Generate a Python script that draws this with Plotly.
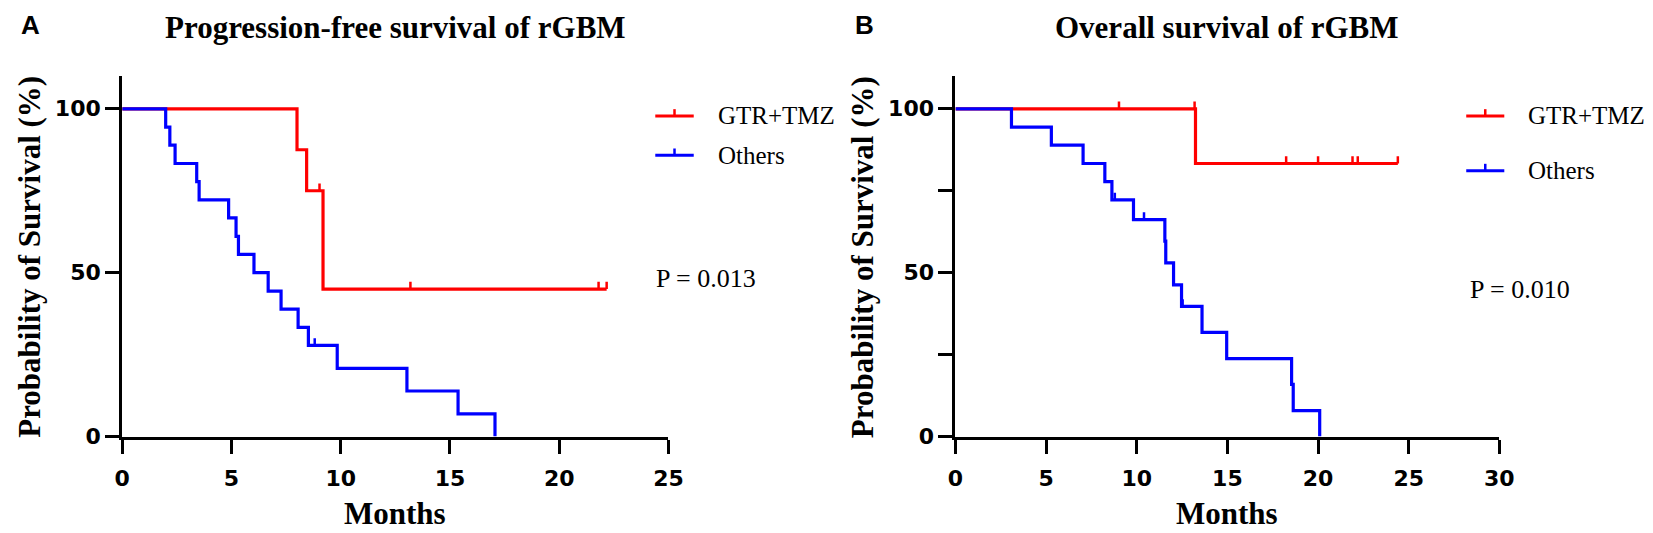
import plotly.graph_objects as go

W, H = 1653, 533

RED = "#ff0000"
BLUE = "#0000ff"

groups = ["GTR+TMZ", "Others"]

# ---- Panel A: progression-free survival (months, %)
pfs_gtr_t = [0, 8.0, 8.44, 9.19, 22.17]
pfs_gtr_s = [100, 87.5, 75.0, 45.0, 45.0]
pfs_gtr_cens_t = [9.03, 13.19, 21.8, 22.17]
pfs_gtr_cens_s = [75.0, 45.0, 45.0, 45.0]

pfs_oth_t = [0, 1.99, 2.18, 2.42, 3.41, 3.52, 4.87, 5.21, 5.32, 6.03, 6.68,
             7.27, 8.05, 8.52, 9.84, 13.03, 15.37, 17.06]
pfs_oth_s = [100, 94.4, 88.9, 83.3, 77.8, 72.2, 66.7, 61.1, 55.6, 50.0, 44.4,
             38.9, 33.3, 27.8, 20.8, 13.9, 6.9, 0]
pfs_oth_cens_t = [8.81]
pfs_oth_cens_s = [27.8]

# ---- Panel B: overall survival (months, %)
os_gtr_t = [0, 13.24, 24.4]
os_gtr_s = [100, 83.3, 83.3]
os_gtr_cens_t = [9.02, 13.19, 18.24, 20.0, 21.9, 22.19, 24.4]
os_gtr_cens_s = [100, 100, 83.3, 83.3, 83.3, 83.3, 83.3]

os_oth_t = [0, 3.09, 5.29, 7.04, 8.24, 8.63, 9.82, 11.55, 11.6, 12.03, 12.47,
            13.6, 14.96, 18.54, 18.63, 20.09]
os_oth_s = [100, 94.4, 88.9, 83.3, 77.8, 72.2, 66.2, 59.6, 53.0, 46.3, 39.7,
            31.8, 23.8, 15.9, 7.9, 0]
os_oth_cens_t = [8.79, 10.4, 12.53]
os_oth_cens_s = [72.2, 66.2, 39.7]

pvalues = ["P = 0.013", "P = 0.010"]
titles = ["Progression-free survival of rGBM", "Overall survival of rGBM"]
panel_tags = ["A", "B"]


def px(x):
    return x / W


def py(y):
    return (H - y) / H


fig = go.Figure()


def add_curve(t, s, ct, cs, color, xa, ya):
    fig.add_trace(go.Scatter(
        x=t, y=s, mode="lines", line=dict(color=color, width=3.2, shape="hv"),
        xaxis=xa, yaxis=ya, showlegend=False, hoverinfo="skip",
    ))
    # censor ticks
    fig.add_trace(go.Scatter(
        x=ct, y=cs, mode="markers", marker=dict(size=1, opacity=0),
        error_y=dict(type="data", symmetric=False, array=[2.2] * len(ct),
                     arrayminus=[0] * len(ct), color=color, thickness=2.5,
                     width=0),
        xaxis=xa, yaxis=ya, showlegend=False, hoverinfo="skip", cliponaxis=False,
    ))


add_curve(pfs_gtr_t, pfs_gtr_s, pfs_gtr_cens_t, pfs_gtr_cens_s, RED, "x", "y")
add_curve(pfs_oth_t, pfs_oth_s, pfs_oth_cens_t, pfs_oth_cens_s, BLUE, "x", "y")
add_curve(os_gtr_t, os_gtr_s, os_gtr_cens_t, os_gtr_cens_s, RED, "x2", "y2")
add_curve(os_oth_t, os_oth_s, os_oth_cens_t, os_oth_cens_s, BLUE, "x2", "y2")

tickfont = dict(family="DejaVu Sans", size=22, color="black", weight="bold")
ax_common = dict(showline=True, linewidth=3, linecolor="black", ticks="outside",
                 ticklen=14, tickwidth=3, tickcolor="black", showgrid=False,
                 zeroline=False, tickfont=tickfont, fixedrange=True)

ydom = [py(439.3), py(69.7)]
fig.update_layout(
    width=W, height=H,
    margin=dict(l=0, r=0, t=0, b=0),
    paper_bgcolor="white", plot_bgcolor="white",
    showlegend=False,
    xaxis=dict(domain=[px(107.7), px(661.7)], range=[0, 25], tickvals=[0, 5, 10, 15, 20, 25],
               anchor="y", ticklabelstandoff=6, **ax_common),
    yaxis=dict(domain=ydom, range=[0, 110], tickvals=[0, 50, 100], anchor="x", **ax_common),
    xaxis2=dict(domain=[px(952.7), px(1504.3)], range=[0, 30],
                tickvals=[0, 5, 10, 15, 20, 25, 30], anchor="y2", ticklabelstandoff=6, **ax_common),
    yaxis2=dict(domain=ydom, range=[0, 110], tickvals=[0, 25, 50, 75, 100],
                ticktext=["0", "", "50", "", "100"], anchor="x2", **ax_common),
)

serif_b = dict(family="Liberation Serif, Times New Roman", size=31, color="black", weight="bold")
serif_ax = dict(family="Liberation Serif, Times New Roman", size=31, color="black", weight="bold")
serif = dict(family="Liberation Serif, Times New Roman", size=25, color="black")
sans_b = dict(family="Liberation Sans, Arial", size=26, color="black", weight="bold")

panels = [
    dict(center=384.7, ytitle_x=14.2, tag_x=3.0, leg_x0=648.3, leg_x1=687.3, text_x=710,
         leg_y=[110.7, 151.0], p_x=646.7, p_y=277.3),
    dict(center=1228.5, ytitle_x=858.3, tag_x=849.0, leg_x0=1470.7, leg_x1=1509.3, text_x=1531.7,
         leg_y=[110.7, 166.7], p_x=1472.7, p_y=288.3),
]

for i, p in enumerate(panels):
    fig.add_annotation(text=titles[i], x=px(p["center"]), y=1.0, xref="paper", yref="paper",
                       xanchor="center", yanchor="top", showarrow=False, font=serif_b)
    fig.add_annotation(text=panel_tags[i], x=px(p["tag_x"]), y=py(17), xref="paper", yref="paper",
                       xanchor="left", yanchor="middle", showarrow=False, font=sans_b)
    fig.add_annotation(text="Months", x=px(p["center"]), y=py(518), xref="paper", yref="paper",
                       xanchor="center", yanchor="middle", showarrow=False, font=serif_ax)
    fig.add_annotation(text="Probability of Survival (%)", x=px(p["ytitle_x"]), y=py(255),
                       xref="paper", yref="paper", xanchor="center", yanchor="middle",
                       textangle=-90, showarrow=False, font=serif_ax)
    fig.add_annotation(text=pvalues[i], x=px(p["p_x"]), y=py(p["p_y"]), xref="paper", yref="paper",
                       xanchor="left", yanchor="middle", showarrow=False,
                       font=dict(serif, size=26))
    # legend keys
    for name, color, ly in zip(groups, [RED, BLUE], p["leg_y"]):
        fig.add_shape(type="line", xref="paper", yref="paper",
                      x0=px(p["leg_x0"]), x1=px(p["leg_x1"]), y0=py(ly), y1=py(ly),
                      line=dict(color=color, width=3))
        mid = (p["leg_x0"] + p["leg_x1"]) / 2
        fig.add_shape(type="line", xref="paper", yref="paper",
                      x0=px(mid), x1=px(mid), y0=py(ly), y1=py(ly - 7),
                      line=dict(color=color, width=2.5))
        fig.add_annotation(text=name, x=px(p["text_x"]), y=py(ly), xref="paper", yref="paper",
                           xanchor="left", yanchor="middle", showarrow=False, font=serif)

fig.write_html("out.html")
